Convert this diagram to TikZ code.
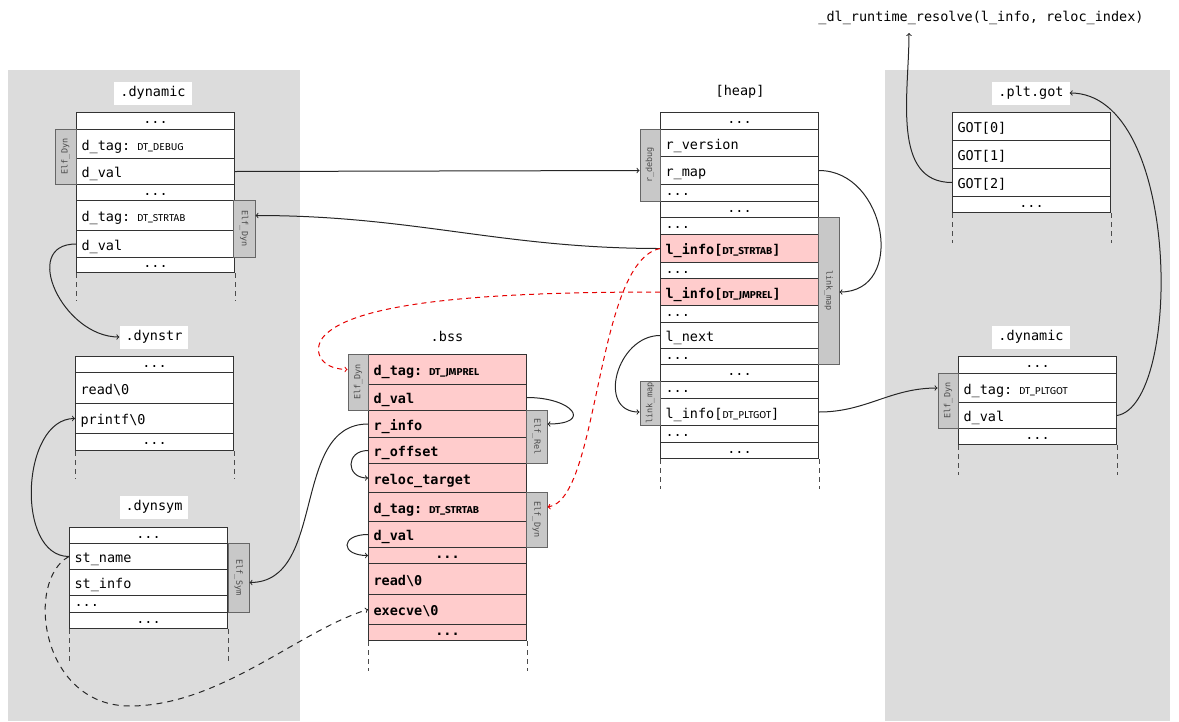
\documentclass[tikz,border=0pt]{standalone}
\usepackage{fontspec}
\newfontfamily\codefont{DejaVu Sans Mono}
\newfontfamily\capsfont{Fira Sans}
\definecolor{panelgray}{HTML}{DCDCDC}
\definecolor{sidegray}{HTML}{C8C8C8}
\definecolor{hotpink}{HTML}{FFCCCC}
\definecolor{rowline}{HTML}{333333}
\newcommand\dtname[1]{{\capsfont\fontsize{10}{11}\selectfont #1}}
\tikzset{
  row/.style={draw=rowline, line width=1pt, fill=white, anchor=north west, minimum width=158pt, text width=148pt,
    inner xsep=5pt, inner ysep=0pt, align=left, text height=12.5pt, text depth=0pt},
  gapl/.style={row, text height=5pt, text depth=0pt},
  gaprow/.style={gapl, align=center},
  hot/.style={row, fill=hotpink, font=\codefont\fontsize{13.5}{16}\selectfont\bfseries},
  hotgap/.style={hot, align=center, text height=5pt, text depth=0pt},
  side/.style={draw=black!60, line width=1pt, fill=sidegray, text=black!70, inner sep=0pt, font=\codefont\fontsize{8.5}{10}\selectfont},
  sidel/.style={side, rotate=90},
  sider/.style={side, rotate=-90},
  lbl/.style={fill=white, inner xsep=6pt, inner ysep=5pt, text height=10pt, text depth=3pt},
  cont/.style={draw=black!70, line width=0.9pt, dash pattern=on 5pt off 4pt},
  link/.style={->, line width=1pt, draw=black!85},
  redlink/.style={link, draw=red!90!black, dash pattern=on 5pt off 4pt},
}
\begin{document}
\begin{tikzpicture}[x=1pt, y=-1pt, font=\codefont\fontsize{13.5}{16}\selectfont]
  \useasboundingbox (0,0) rectangle (1179,721);
  % panels
  \fill[panelgray] (8,70) rectangle (300,721);
  \fill[panelgray] (885,70) rectangle (1170,721);

  % labels
  \node (lblresolve) at (981,18) {\_dl\_runtime\_resolve(l\_info, reloc\_index)};
  \coordinate (resolvein) at (909,33);
  \node[lbl] (lbldyn) at (153,93) {.dynamic};
  \node[lbl] (lbldynstr) at (154,337) {.dynstr};
  \node[lbl] (lbldynsym) at (154,507) {.dynsym};
  \node (lblbss) at (447,336) {.bss};
  \node (lblheap) at (740,92) {[heap]};
  \node[lbl] (lblgot) at (1031,93) {.plt.got};
  \node[lbl] (lblrdyn) at (1031,337) {.dynamic};

  % .dynamic (left)
  \node[gaprow, minimum height=17pt] (ldA) at (76,112) {...};
  \node[row, minimum height=29pt] (ldtagA) at (76,129) {d\_tag: \dtname{DT\_DEBUG}};
  \node[row, minimum height=26pt] (ldvalA) at (76,158) {d\_val};
  \node[gaprow, minimum height=16pt] (ldB) at (76,184) {...};
  \node[row, minimum height=30pt] (ldtagB) at (76,200) {d\_tag: \dtname{DT\_STRTAB}};
  \node[row, minimum height=27pt] (ldvalB) at (76,230) {d\_val};
  \node[gaprow, minimum height=15pt] (ldC) at (76,257) {...};
  \node[sidel, minimum width=55pt, minimum height=21pt] (sdynA) at (65.5,156.5) {Elf\_Dyn};
  \node[sider, minimum width=57pt, minimum height=22pt] (sdynB) at (244,228.5) {Elf\_Dyn};
  \draw[cont] (ldC.south west) -- ++(0,28);
  \draw[cont] (ldC.south east) -- ++(0,28);

  % .dynstr
  \node[gaprow, minimum height=16pt] (dsA) at (75,356) {...};
  \node[row, minimum height=31pt] (dsread) at (75,372) {read\textbackslash 0};
  \node[row, minimum height=30pt] (dsprintf) at (75,403) {printf\textbackslash 0};
  \node[gaprow, minimum height=17pt] (dsB) at (75,433) {...};
  \draw[cont] (dsB.south west) -- ++(0,28);
  \draw[cont] (dsB.south east) -- ++(0,28);

  % .dynsym
  \node[gaprow, minimum height=16pt] (dyA) at (69,527) {...};
  \node[row, minimum height=26pt] (dyname) at (69,543) {st\_name};
  \node[row, minimum height=26pt] (dyinfo) at (69,569) {st\_info};
  \node[gapl, minimum height=17pt] (dyB) at (69,595) {...};
  \node[gaprow, minimum height=16pt] (dyC) at (69,612) {...};
  \node[sider, minimum width=69pt, minimum height=21pt] (ssym) at (238.5,577.5) {Elf\_Sym};
  \draw[cont] (dyC.south west) -- ++(0,32);
  \draw[cont] (dyC.south east) -- ++(0,32);

  % .bss
  \node[hot, minimum height=30pt] (bdtagA) at (368,354) {d\_tag: \dtname{DT\_JMPREL}};
  \node[hot, minimum height=26pt] (bdvalA) at (368,384) {d\_val};
  \node[hot, minimum height=27pt] (brinfo) at (368,410) {r\_info};
  \node[hot, minimum height=26pt] (broffset) at (368,437) {r\_offset};
  \node[hot, minimum height=29pt] (btarget) at (368,463) {reloc\_target};
  \node[hot, minimum height=29pt] (bdtagB) at (368,492) {d\_tag: \dtname{DT\_STRTAB}};
  \node[hot, minimum height=26pt] (bdvalB) at (368,521) {d\_val};
  \node[hotgap, minimum height=16pt] (bA) at (368,547) {...};
  \node[hot, minimum height=31pt] (bread) at (368,563) {read\textbackslash 0};
  \node[hot, minimum height=30pt] (bexecve) at (368,594) {execve\textbackslash 0};
  \node[hotgap, minimum height=16pt] (bB) at (368,624) {...};
  \node[sidel, minimum width=56pt, minimum height=20pt] (sbdynA) at (358,382) {Elf\_Dyn};
  \node[sider, minimum width=53pt, minimum height=21pt] (srel) at (536.5,436.5) {Elf\_Rel};
  \node[sider, minimum width=55pt, minimum height=21pt] (sbdynB) at (536.5,519.5) {Elf\_Dyn};
  \draw[cont] (bB.south west) -- ++(0,30);
  \draw[cont] (bB.south east) -- ++(0,30);

  % [heap]
  \node[gaprow, minimum height=17pt] (hA) at (660,112) {...};
  \node[row, minimum height=27pt] (hversion) at (660,129) {r\_version};
  \node[row, minimum height=28pt] (hmap) at (660,156) {r\_map};
  \node[gapl, minimum height=17pt] (hB) at (660,184) {...};
  \node[gaprow, minimum height=16pt] (hC) at (660,201) {...};
  \node[gapl, minimum height=17pt] (hD) at (660,217) {...};
  \node[hot, minimum height=28pt] (hstrtab) at (660,234) {l\_info[\dtname{DT\_STRTAB}]};
  \node[gapl, minimum height=16pt] (hE) at (660,262) {...};
  \node[hot, minimum height=27pt] (hjmprel) at (660,278) {l\_info[\dtname{DT\_JMPREL}]};
  \node[gapl, minimum height=17pt] (hF) at (660,305) {...};
  \node[row, minimum height=26pt] (hnext) at (660,322) {l\_next};
  \node[gapl, minimum height=16pt] (hG) at (660,348) {...};
  \node[gaprow, minimum height=17pt] (hH) at (660,364) {...};
  \node[gapl, minimum height=17pt] (hI) at (660,381) {...};
  \node[row, minimum height=27pt] (hpltgot) at (660,398) {l\_info[\dtname{DT\_PLTGOT}]};
  \node[gapl, minimum height=17pt] (hJ) at (660,425) {...};
  \node[gaprow, minimum height=16pt] (hK) at (660,442) {...};
  \node[sidel, minimum width=72pt, minimum height=20pt] (sdebug) at (650,165) {r\_debug};
  \node[sider, minimum width=147pt, minimum height=21pt] (smapA) at (828.5,290.5) {link\_map};
  \node[sidel, minimum width=44pt, minimum height=20pt] (smapB) at (650,403) {link\_map};
  \draw[cont] (hK.south west) -- ++(0,30);
  \draw[cont] (hK.south east) -- ++(0,30);

  % .plt.got
  \node[row, minimum height=28pt] (gotA) at (952,112) {GOT[0]};
  \node[row, minimum height=28pt] (gotB) at (952,140) {GOT[1]};
  \node[row, minimum height=28pt] (gotC) at (952,168) {GOT[2]};
  \node[gaprow, minimum height=16pt] (gotD) at (952,196) {...};
  \draw[cont] (gotD.south west) -- ++(0,30);
  \draw[cont] (gotD.south east) -- ++(0,30);

  % .dynamic (right)
  \node[gaprow, minimum height=17pt] (rdA) at (958,356) {...};
  \node[row, minimum height=29pt] (rdtag) at (958,373) {d\_tag: \dtname{DT\_PLTGOT}};
  \node[row, minimum height=26pt] (rdval) at (958,402) {d\_val};
  \node[gaprow, minimum height=16pt] (rdB) at (958,428) {...};
  \node[sidel, minimum width=55pt, minimum height=20pt] (srdyn) at (948,400.5) {Elf\_Dyn};
  \draw[cont] (rdB.south west) -- ++(0,30);
  \draw[cont] (rdB.south east) -- ++(0,30);

  % connectors
  \draw[link] (ldvalA.east) -- (sdebug.north |- hmap.west);
  \draw[link] (hstrtab.west) to[out=180,in=0] (sdynB.north |- ldtagB.east);
  \draw[link] (ldvalB.west) to[out=180,in=180,looseness=1.4] (lbldynstr.west);
  \draw[link] (dyname.west) to[out=180,in=180] (dsprintf.west);
  \draw[link,dash pattern=on 6pt off 5pt] (dyname.west) .. controls (25,580) and (40,706) .. (130,706)
    .. controls (220,706) and (300,630) .. (bexecve.west);
  \draw[link] (brinfo.west) to[out=180,in=0] (ssym.north |- dyinfo.east);
  \draw[link] (bdvalA.east) to[out=0,in=0,looseness=3.5] (srel.north |- brinfo.east);
  \draw[link] (broffset.west) to[out=180,in=180,looseness=2.1] (btarget.west);
  \draw[link] (bdvalB.west) to[out=180,in=180,looseness=3.4] (bA.west);
  \draw[link] (hmap.east) to[out=0,in=0,looseness=1.4] (smapA.north |- hjmprel.east);
  \draw[link] (hnext.west) to[out=180,in=180,looseness=1.4] (smapB.north |- hpltgot.west);
  \draw[link] (hpltgot.east) to[out=0,in=180] (srdyn.north |- rdtag.west);
  \draw[link] (rdval.east) .. controls (1182,405) and (1182,93) .. (lblgot.east);
  \draw[link] (gotC.west) to[out=180,in=270] (resolvein);
  \draw[redlink] (hjmprel.west) .. controls (500,292) and (360,300) .. (325,335)
    .. controls (312,348) and (318,369) .. (sbdynA.north |- bdtagA.west);
  \draw[redlink] (hstrtab.west) .. controls (595,262) and (600,500) .. (sbdynB.north |- bdtagB.east);
\end{tikzpicture}
\end{document}
